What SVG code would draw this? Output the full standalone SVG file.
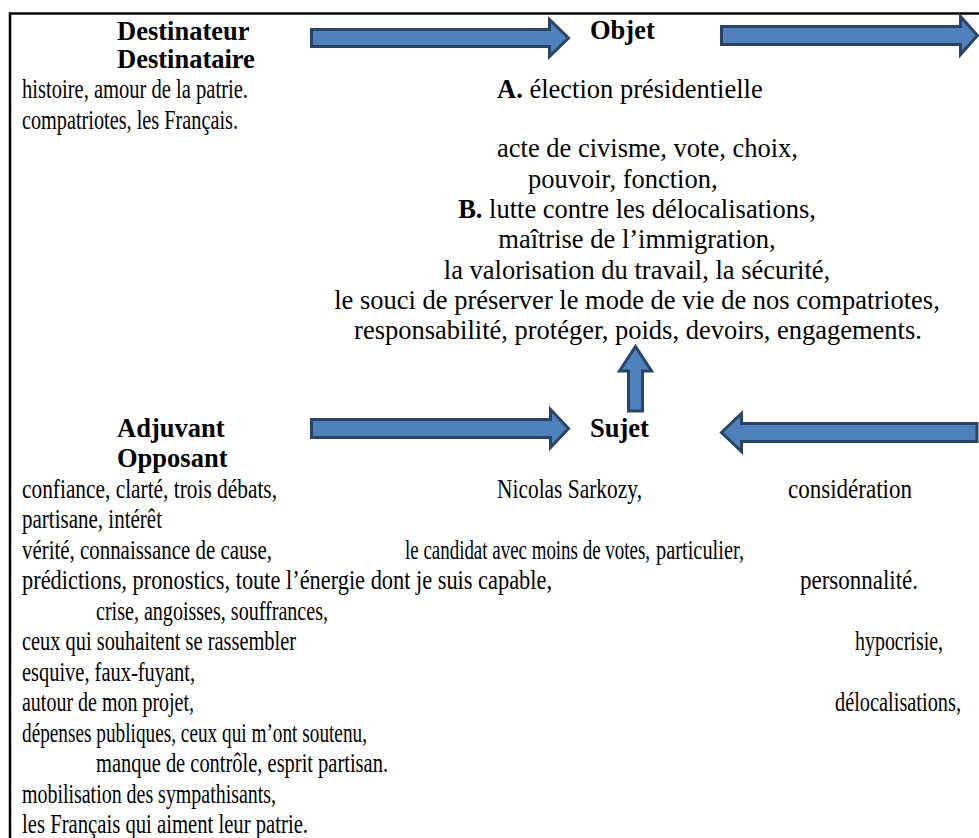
<svg xmlns="http://www.w3.org/2000/svg" width="979" height="838" viewBox="0 0 979 838">
  <style>
    text { font-family: "Liberation Serif", "Times New Roman", serif; font-size: 26.5px; fill: #000; }
    .h { font-weight: bold; }
    .c { text-anchor: middle; }
    .arrow { fill: #4F81BD; stroke: #2A4466; stroke-width: 3; stroke-linejoin: miter; }
    .frame { fill: none; stroke: #000; stroke-width: 2.5; }
  </style>

  <rect width="979" height="838" fill="#fff"/>
  <path class="frame" d="M10,838 V13.5 H979"/>

  <g id="connectors">
    <!-- Destinateur -> Objet -->
    <path class="arrow" d="M311.5,29.5 H549.5 V19.5 L568.5,38 L549.5,56.5 V46.5 H311.5 Z"/>
    <!-- Objet -> Destinataire -->
    <path class="arrow" d="M721.5,26.5 H960.5 V16.5 L977.5,35.5 L960.5,54.5 V44.5 H721.5 Z"/>
    <!-- Adjuvant -> Sujet -->
    <path class="arrow" d="M311.5,419.5 H550.5 V409.5 L568.5,428.5 L550.5,447.5 V437.5 H311.5 Z"/>
    <!-- Opposant -> Sujet -->
    <path class="arrow" d="M977,423.5 H741.5 V413.5 L721.5,432.5 L741.5,451.5 V441.5 H977 Z"/>
    <!-- Sujet -> Objet -->
    <path class="arrow" d="M628.5,411 V371 H619.5 L635.5,346.5 L651.5,371 H642.5 V411 Z"/>
  </g>

  <g id="destinateur">
    <text class="h" x="117" y="40">Destinateur</text>
    <text class="h" x="117" y="68">Destinataire</text>
    <text x="22" y="98" textLength="226" lengthAdjust="spacingAndGlyphs">histoire, amour de la patrie.</text>
    <text x="22" y="129" textLength="216" lengthAdjust="spacingAndGlyphs">compatriotes, les Français.</text>
  </g>

  <g id="objet">
    <text class="h" x="590" y="39">Objet</text>
    <text x="497" y="98"><tspan class="h">A.</tspan> élection présidentielle</text>
    <text x="497" y="157">acte de civisme, vote, choix,</text>
    <text x="528" y="188">pouvoir, fonction,</text>
    <text class="c" x="637" y="218"><tspan class="h">B.</tspan> lutte contre les délocalisations,</text>
    <text class="c" x="637" y="248">maîtrise de l’immigration,</text>
    <text class="c" x="637" y="279">la valorisation du travail, la sécurité,</text>
    <text class="c" x="637" y="309">le souci de préserver le mode de vie de nos compatriotes,</text>
    <text class="c" x="638" y="339">responsabilité, protéger, poids, devoirs, engagements.</text>
  </g>

  <g id="adjuvant">
    <text class="h" x="117" y="437">Adjuvant</text>
    <text class="h" x="117" y="467">Opposant</text>
  </g>

  <g id="sujet">
    <text class="h" x="590" y="437">Sujet</text>
  </g>

  <g id="actants-text">
    <text x="22" y="498" textLength="255" lengthAdjust="spacingAndGlyphs">confiance, clarté, trois débats,</text>
    <text x="497" y="498" textLength="145" lengthAdjust="spacingAndGlyphs">Nicolas Sarkozy,</text>
    <text x="788" y="498" textLength="124" lengthAdjust="spacingAndGlyphs">considération</text>
    <text x="22" y="528" textLength="140" lengthAdjust="spacingAndGlyphs">partisane, intérêt</text>
    <text x="22" y="559" textLength="250" lengthAdjust="spacingAndGlyphs">vérité, connaissance de cause,</text>
    <text x="405" y="559" textLength="245" lengthAdjust="spacingAndGlyphs">le candidat avec moins de votes,</text>
    <text x="656" y="559" textLength="88" lengthAdjust="spacingAndGlyphs">particulier,</text>
    <text x="22" y="589" textLength="530" lengthAdjust="spacingAndGlyphs">prédictions, pronostics, toute l’énergie dont je suis capable,</text>
    <text x="800" y="589" textLength="118" lengthAdjust="spacingAndGlyphs">personnalité.</text>
    <text x="96" y="620" textLength="232" lengthAdjust="spacingAndGlyphs">crise, angoisses, souffrances,</text>
    <text x="22" y="650" textLength="274" lengthAdjust="spacingAndGlyphs">ceux qui souhaitent se rassembler</text>
    <text x="855" y="650" textLength="88" lengthAdjust="spacingAndGlyphs">hypocrisie,</text>
    <text x="22" y="681" textLength="173" lengthAdjust="spacingAndGlyphs">esquive, faux-fuyant,</text>
    <text x="22" y="711" textLength="172" lengthAdjust="spacingAndGlyphs">autour de mon projet,</text>
    <text x="835" y="711" textLength="126" lengthAdjust="spacingAndGlyphs">délocalisations,</text>
    <text x="22" y="742" textLength="345" lengthAdjust="spacingAndGlyphs">dépenses publiques, ceux qui m’ont soutenu,</text>
    <text x="96" y="772" textLength="292" lengthAdjust="spacingAndGlyphs">manque de contrôle, esprit partisan.</text>
    <text x="22" y="803" textLength="254" lengthAdjust="spacingAndGlyphs">mobilisation des sympathisants,</text>
    <text x="22" y="833" textLength="286" lengthAdjust="spacingAndGlyphs">les Français qui aiment leur patrie.</text>
  </g>
</svg>
